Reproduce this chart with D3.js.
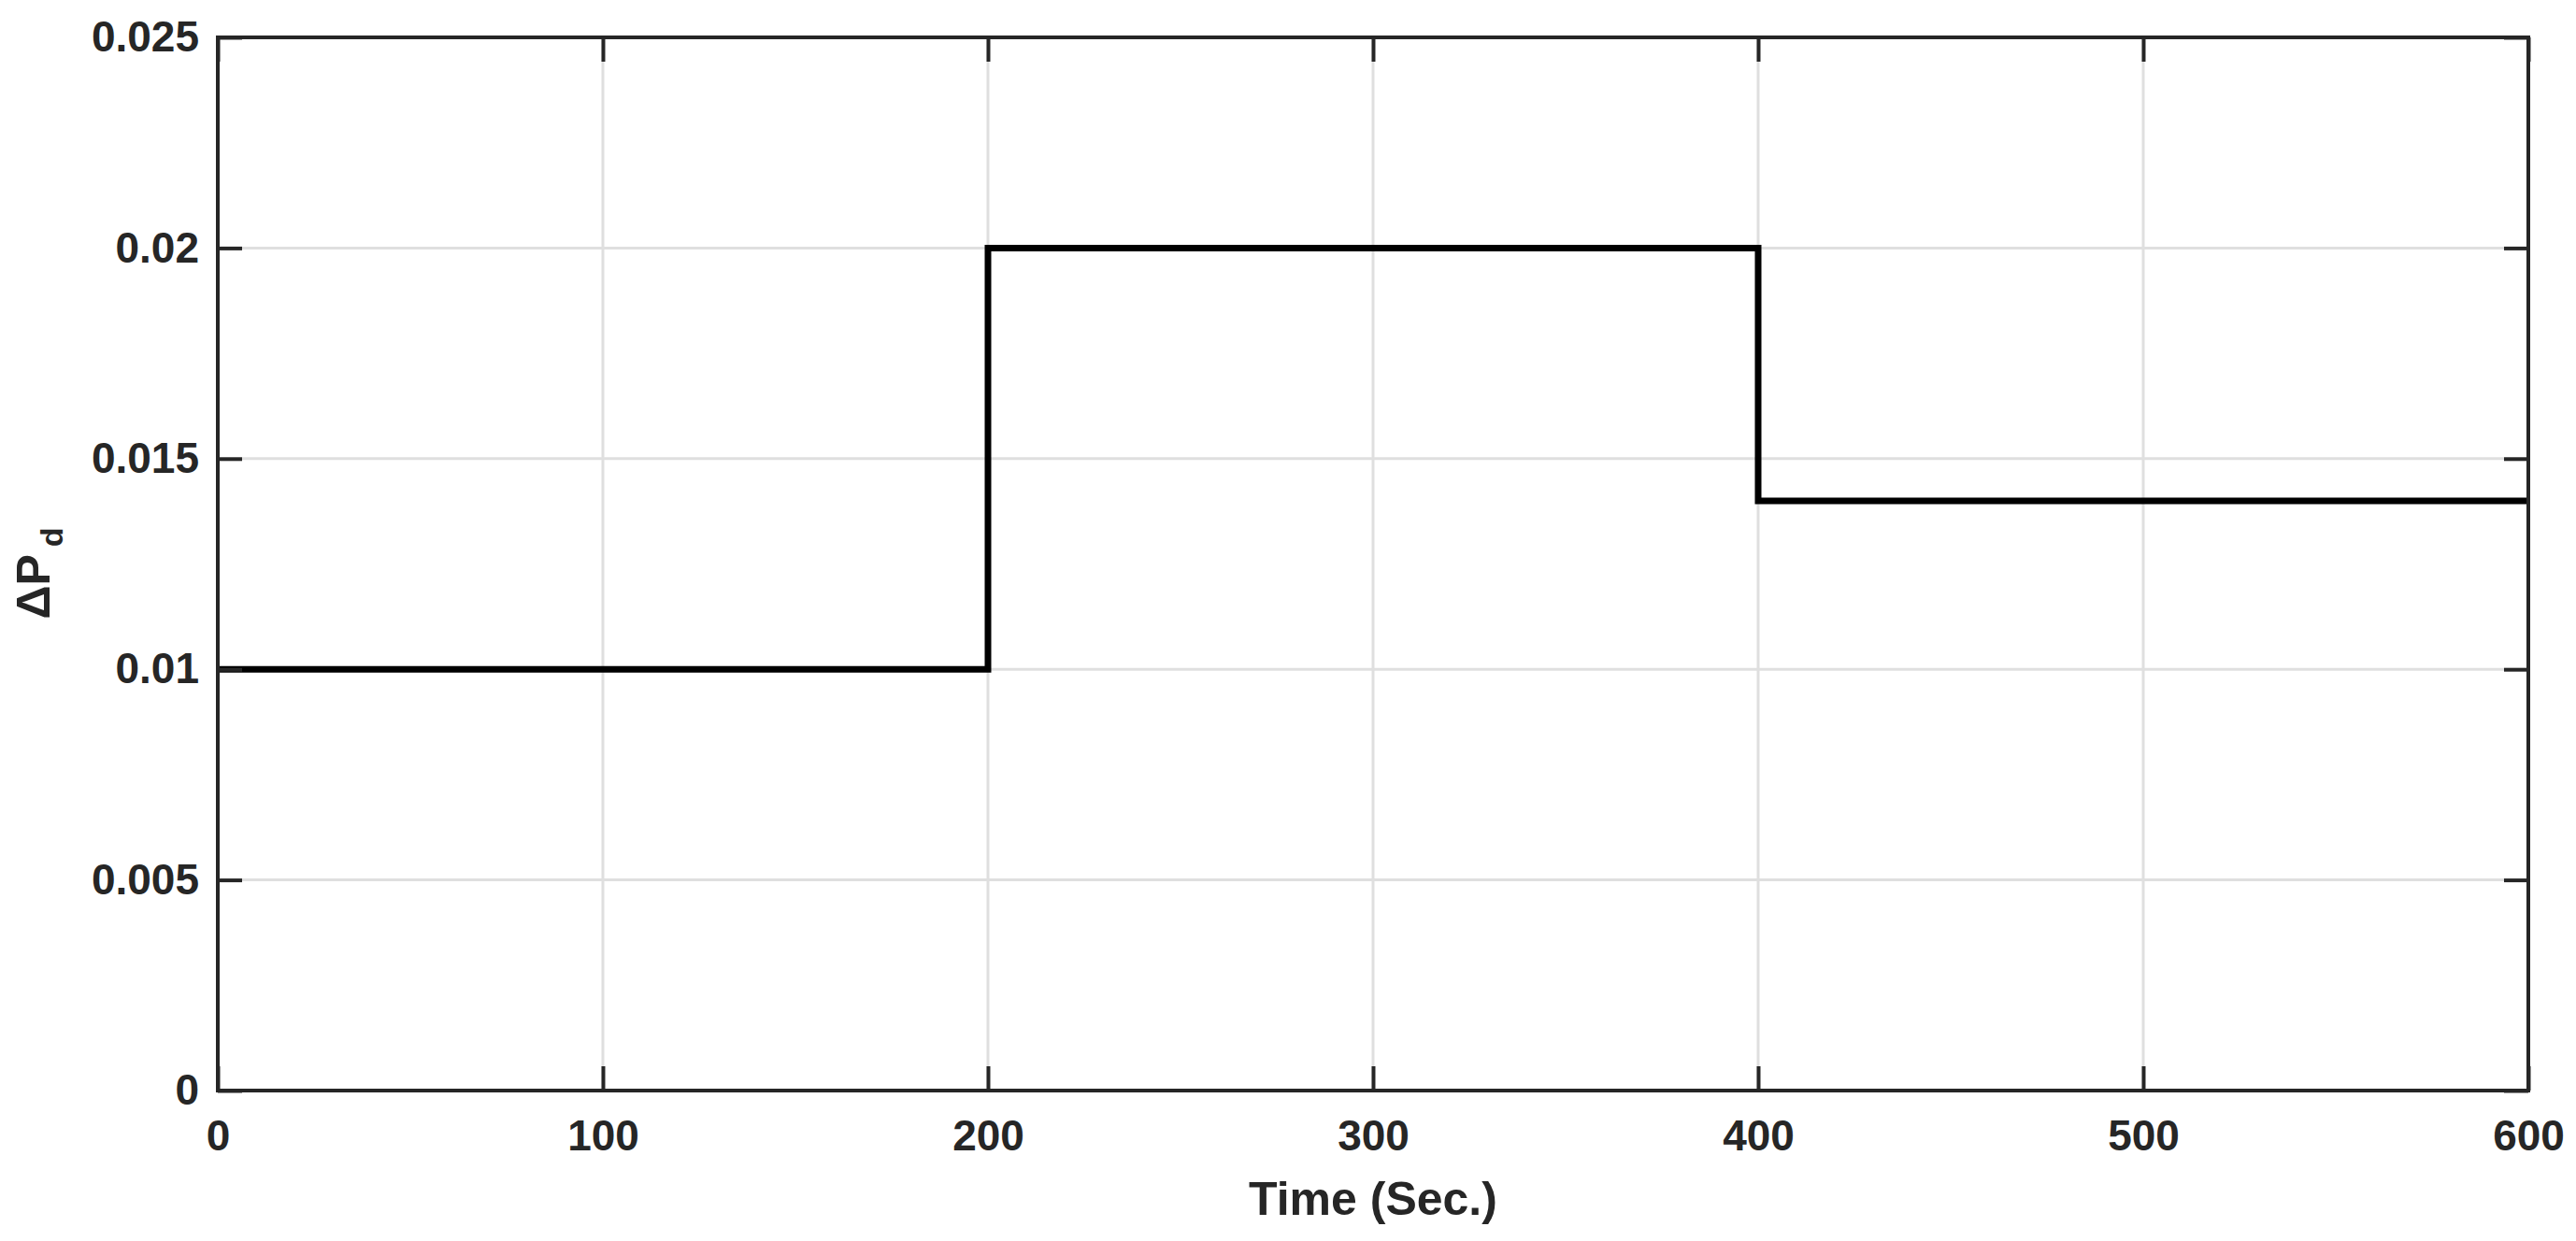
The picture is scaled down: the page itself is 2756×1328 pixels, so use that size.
<!DOCTYPE html>
<html>
<head>
<meta charset="utf-8">
<script src="https://cdn.jsdelivr.net/npm/d3@7"></script>
<style>
   body { margin: 0; background: #fff; }
   text { font-family: "Liberation Sans", Arial, sans-serif; font-weight: bold; fill: #262626; }
</style>
</head>
<body>
<div id="chart"></div>
<script>
// step signal: value holds from each time until the next one
var times = [0, 200, 400, 600];
var values = [0.01, 0.02, 0.014, 0.014];
var xTicks = [0, 100, 200, 300, 400, 500, 600];
var yTicks = [0, 0.005, 0.01, 0.015, 0.02, 0.025];
var yTickLabels = ["0", "0.005", "0.01", "0.015", "0.02", "0.025"];

var W = 2756, H = 1328;
var margin = {top: 40, right: 51, bottom: 161, left: 233},
   width = W - margin.left - margin.right,
   height = H - margin.top - margin.bottom;

var svg = d3.select("#chart")
            .append("svg")
            .attr("width", W)
            .attr("height", H);

var g = svg.append("g")
           .attr("transform", "translate(" + margin.left + "," + margin.top + ")");

var x = d3.scaleLinear().domain([0, 600]).range([0, width]);
var y = d3.scaleLinear().domain([0, 0.025]).range([height, 0]);

// grid
g.selectAll(".gx").data(xTicks.slice(1, -1)).enter().append("line")
   .attr("x1", function(d) { return x(d); }).attr("x2", function(d) { return x(d); })
   .attr("y1", 0).attr("y2", height)
   .attr("stroke", "#dfdfdf").attr("stroke-width", 3);
g.selectAll(".gy").data(yTicks.slice(1, -1)).enter().append("line")
   .attr("y1", function(d) { return y(d); }).attr("y2", function(d) { return y(d); })
   .attr("x1", 0).attr("x2", width)
   .attr("stroke", "#dfdfdf").attr("stroke-width", 3);

// data line
var data = times.map(function(t, i) { return {time: t, value: values[i]}; });
g.append("path")
   .datum(data)
   .attr("fill", "none")
   .attr("stroke", "#000")
   .attr("stroke-width", 7)
   .attr("stroke-linejoin", "miter")
   .attr("d", d3.line()
           .curve(d3.curveStepAfter)
           .x(function(d) { return x(d.time); })
           .y(function(d) { return y(d.value); }));

// axes, inward ticks on all four sides
function styleAxis(sel) {
   sel.select(".domain").remove();
   sel.attr("font-size", null).attr("font-family", null);
   sel.selectAll(".tick line").attr("stroke", "#262626").attr("stroke-width", 4);
   sel.selectAll("text").attr("fill", "#262626").style("font-size", "46px");
}

var xb = g.append("g").attr("transform", "translate(0," + height + ")")
   .call(d3.axisBottom(x).tickValues(xTicks).tickSizeInner(-26).tickSizeOuter(0).tickPadding(31).tickFormat(d3.format("d")));
styleAxis(xb);
var xt = g.append("g")
   .call(d3.axisTop(x).tickValues(xTicks).tickSizeInner(-26).tickSizeOuter(0).tickFormat(""));
styleAxis(xt);
var yl = g.append("g")
   .call(d3.axisLeft(y).tickValues(yTicks).tickSizeInner(-26).tickSizeOuter(0).tickPadding(20)
        .tickFormat(function(d, i) { return yTickLabels[i]; }));
styleAxis(yl);
var yr = g.append("g").attr("transform", "translate(" + width + ",0)")
   .call(d3.axisRight(y).tickValues(yTicks).tickSizeInner(-26).tickSizeOuter(0).tickFormat(""));
styleAxis(yr);

// box
g.append("rect")
   .attr("x", 0).attr("y", 0).attr("width", width).attr("height", height)
   .attr("fill", "none").attr("stroke", "#262626").attr("stroke-width", 4);

// labels
g.append("text")
   .attr("x", width / 2).attr("y", height + 133)
   .attr("text-anchor", "middle")
   .style("font-size", "50px")
   .text("Time (Sec.)");

var yLab = svg.append("text")
   .attr("transform", "translate(53," + (margin.top + height / 2 + 10) + ") rotate(-90)")
   .attr("text-anchor", "middle")
   .style("font-size", "50px");
yLab.append("tspan").text("\u0394P");
yLab.append("tspan").style("font-size", "34px").attr("dy", 14).attr("dx", 8).text("d");
</script>
</body>
</html>
